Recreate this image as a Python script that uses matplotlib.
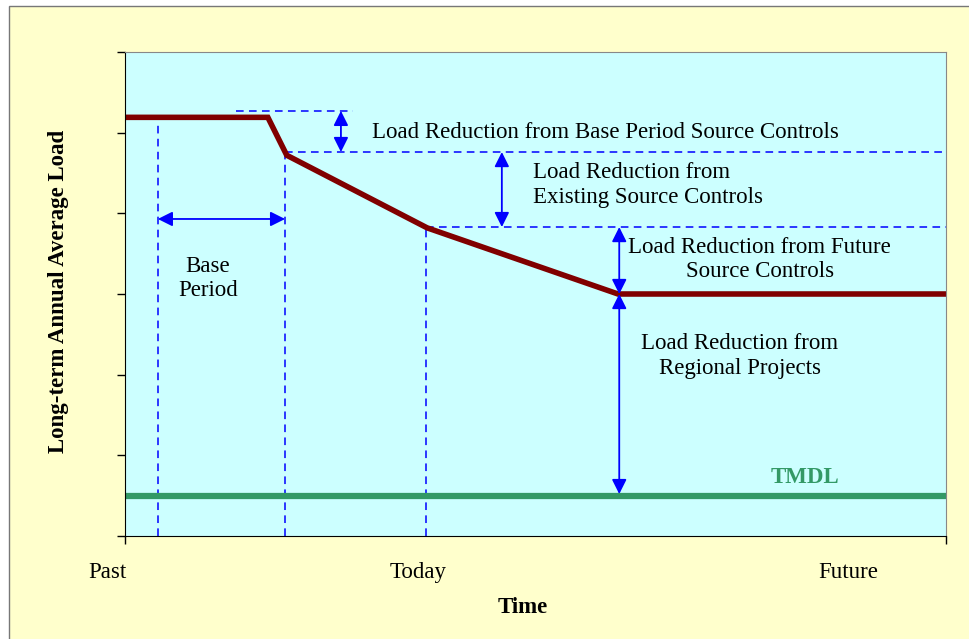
import matplotlib.pyplot as plt
from matplotlib.patches import Rectangle

# load trajectory (x: time 0..100, y: load units)
load_x = [0, 17.4, 19.7, 36.8, 60.05, 100]
load_y = [5.19, 5.19, 4.72, 3.82, 3.0, 3.0]

tmdl_x = [0, 100]
tmdl_y = [0.5, 0.5]

# dashed guide lines: (x0, x1, y0, y1)
guides = [
    (4.0, 4.0, 0, 5.15),
    (19.5, 19.5, 0, 4.76),
    (36.7, 36.7, 0, 3.83),
    (13.5, 27.8, 5.27, 5.27),
    (19.5, 100, 4.76, 4.76),
    (36.7, 100, 3.83, 3.83),
]

# double arrows: ((x0, y0), (x1, y1))
arrows = [
    ((26.3, 5.27), (26.3, 4.76)),
    ((45.9, 4.76), (45.9, 3.83)),
    ((60.2, 3.83), (60.2, 3.0)),
    ((60.2, 3.0), (60.2, 0.52)),
    ((4.0, 3.93), (19.5, 3.93)),
]

labels = [
    (30.1, 5.0, "Load Reduction from Base Period Source Controls", "left"),
    (49.7, 4.35, "Load Reduction from\nExisting Source Controls", "left"),
    (77.3, 3.43, "Load Reduction from Future\nSource Controls", "center"),
    (74.9, 2.23, "Load Reduction from\nRegional Projects", "center"),
    (10.1, 3.19, "Base\nPeriod", "center"),
]

xcats = ["Past", "Today", "Future"]
xcat_pos = [-2.2, 35.7, 88.1]


def main():
    fig = plt.figure(figsize=(9.7, 6.39), dpi=100)
    fig.patch.set_facecolor("white")
    fig.patches.append(Rectangle((9 / 970, -0.01), 1, (639 - 6) / 639 + 0.01,
                                 transform=fig.transFigure, facecolor="#FFFFCC",
                                 edgecolor="#777777", lw=1, zorder=-10))
    ax = fig.add_axes([125 / 970, 1 - 536 / 639, 821 / 970, 484 / 639])
    ax.set_facecolor("#CCFFFF")
    ax.set_xlim(0, 100)
    ax.set_ylim(0, 6)

    serif = "Liberation Serif"
    fs = 16.5

    for x0, x1, y0, y1 in guides:
        ax.plot([x0, x1], [y0, y1], color="#0000FF", lw=1.1, ls=(0, (5, 3.5)))

    ax.plot(tmdl_x, tmdl_y, color="#339966", lw=4.5, solid_capstyle="butt")
    ax.plot(load_x, load_y, color="#800000", lw=4, solid_capstyle="butt",
            solid_joinstyle="miter")

    for (a, b) in arrows:
        ax.annotate("", xy=b, xytext=a,
                    arrowprops=dict(arrowstyle="<|-|>", color="#0000FF", lw=1.3,
                                    mutation_scale=22, shrinkA=0, shrinkB=0))

    for x, y, s, ha in labels:
        ax.text(x, y, s, ha=ha, va="center", fontsize=fs, family=serif,
                linespacing=1.22)

    ax.text(82.8, 0.72, "TMDL", color="#339966", fontsize=fs, family=serif,
            fontweight="bold", ha="center", va="center")

    for s, x in zip(xcats, xcat_pos):
        ax.text(x, -0.0744, s, transform=ax.get_xaxis_transform(), ha="center",
                va="center", fontsize=fs, family=serif)

    ax.text(0.485, -0.1467, "Time", transform=ax.transAxes, ha="center",
            va="center", fontsize=fs, family=serif, fontweight="bold")
    ax.text(-0.0804, 0.505, "Long-term Annual Average Load", transform=ax.transAxes,
            ha="center", va="center", rotation=90, fontsize=16.5, family=serif,
            fontweight="bold")

    ax.set_xticks([0, 100])
    ax.set_xticklabels([])
    ax.set_yticks(range(7))
    ax.set_yticklabels([])
    ax.tick_params(axis="both", direction="out", length=6, width=1, color="black")
    ax.spines["top"].set_color("#888888")
    ax.spines["right"].set_color("#888888")

    fig.savefig("out.png", dpi=100)


if __name__ == "__main__":
    main()
